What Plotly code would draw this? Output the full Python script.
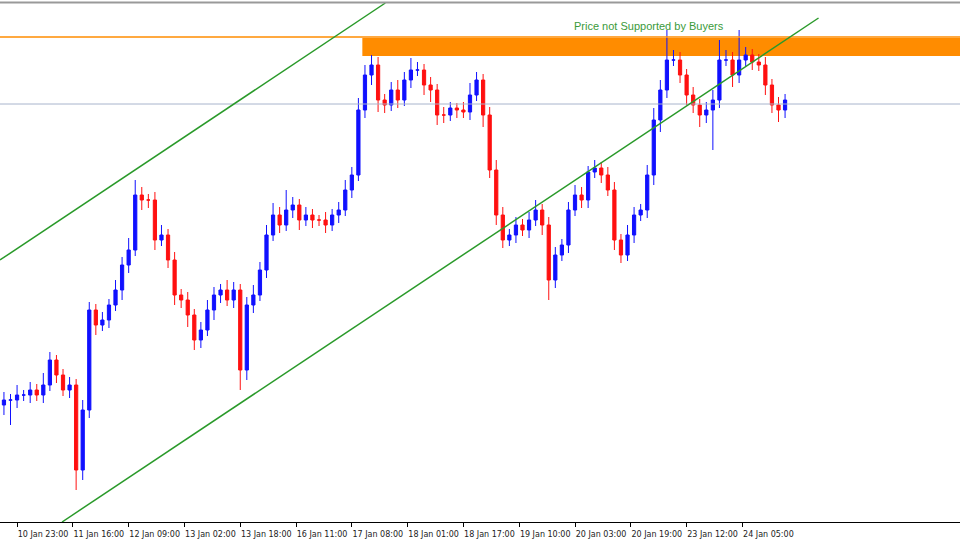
import plotly.graph_objs as go

# 2-hour candles, hour 0 = 10 Jan 23:00
hours = list(range(-4, 236, 2))
close = [140, 140, 145, 145, 150, 145, 155, 180, 165, 150, 155, 70, 130, 230, 215, 220, 235, 250, 275, 290,
         345, 340, 340, 300, 305, 280, 245, 240, 225, 200, 210, 230, 245, 250, 240, 250, 170, 235, 245, 270,
         305, 325, 315, 330, 335, 320, 325, 320, 320, 315, 325, 330, 350, 365, 430, 465, 475, 440, 435, 450,
         440, 460, 470, 470, 455, 450, 425, 425, 432, 430, 428, 445, 460, 425, 370, 325, 300, 305, 315, 310,
         320, 330, 315, 260, 285, 295, 330, 345, 340, 368, 372, 365, 350, 300, 285, 305, 325, 330, 365, 420,
         450, 480, 480, 465, 445, 435, 425, 430, 440, 480, 480, 465, 480, 485, 478, 475, 455, 435, 430, 440]
first_open = 135
wick_up = [8, 6, 10, 5, 8, 6, 12, 8, 5, 6, 8, 6, 10, 8, 6, 8, 6, 10, 8, 12,
           15, 8, 6, 8, 10, 6, 8, 6, 8, 6, 8, 10, 8, 6, 10, 8, 6, 8, 10, 8,
           10, 12, 8, 20, 8, 6, 8, 6, 5, 8, 6, 8, 10, 8, 12, 10, 10, 8, 6, 8,
           10, 8, 12, 8, 6, 8, 6, 8, 6, 5, 8, 12, 8, 6, 8, 10, 8, 6, 8, 6,
           8, 10, 6, 8, 8, 6, 8, 10, 8, 6, 8, 6, 8, 8, 6, 10, 8, 6, 10, 12,
           10, 30, 10, 8, 6, 8, 6, 8, 10, 20, 10, 8, 30, 8, 6, 8, 8, 6, 8, 6]
wick_dn = [10, 25, 8, 6, 8, 6, 8, 6, 8, 6, 8, 20, 10, 8, 10, 6, 8, 6, 10, 8,
           6, 10, 8, 10, 6, 8, 10, 8, 12, 10, 8, 6, 10, 8, 6, 8, 20, 10, 8, 6,
           8, 6, 8, 6, 8, 10, 6, 8, 6, 8, 6, 8, 6, 8, 6, 8, 10, 12, 8, 6,
           8, 6, 8, 6, 10, 12, 10, 8, 6, 8, 6, 8, 6, 12, 8, 10, 8, 6, 8, 6,
           8, 6, 10, 20, 8, 6, 8, 6, 8, 8, 6, 8, 6, 10, 8, 6, 8, 6, 8, 10,
           12, 8, 6, 8, 10, 8, 12, 8, 40, 8, 6, 12, 8, 6, 8, 6, 10, 8, 12, 8]

tick_hours = [-17, 0, 17, 34, 51, 68, 85, 102, 119, 136, 153, 170, 187, 204, 221]
tick_text = ["10 Jan 06:00", "10 Jan 23:00", "11 Jan 16:00", "12 Jan 09:00", "13 Jan 02:00", "13 Jan 18:00",
             "16 Jan 11:00", "17 Jan 08:00", "18 Jan 01:00", "18 Jan 17:00", "19 Jan 10:00", "20 Jan 03:00",
             "20 Jan 19:00", "23 Jan 12:00", "24 Jan 05:00"]

opens = [first_open] + close[:-1]
highs = [max(o, c) + w for o, c, w in zip(opens, close, wick_up)]
lows = [min(o, c) - w for o, c, w in zip(opens, close, wick_dn)]

candles = go.Candlestick(x=hours, open=opens, high=highs, low=lows, close=close,
                         increasing=dict(line=dict(color="#1010ff", width=1), fillcolor="#1010ff"),
                         decreasing=dict(line=dict(color="#ff1010", width=1), fillcolor="#ff1010"),
                         whiskerwidth=0, showlegend=False, hoverinfo="skip")

fig = go.Figure(data=[candles])

zone_top, zone_bot = 502, 484
fig.add_shape(type="rect", x0=105.2, x1=300, y0=zone_bot, y1=zone_top, fillcolor="#ff8c00",
              line=dict(width=0), layer="below")
fig.add_shape(type="line", x0=-10, x1=300, y0=503, y1=503, line=dict(color="#ff8c00", width=1.5))
fig.add_shape(type="line", x0=-10, x1=300, y0=436, y1=436, line=dict(color="#a8b4cc", width=1))
fig.add_shape(type="line", x0=-5.2, x1=112.2, y0=280, y1=537, line=dict(color="#2a9a2a", width=1.5))
fig.add_shape(type="line", x0=13.7, x1=244.2, y0=18, y1=522, line=dict(color="#2a9a2a", width=1.5))
fig.add_shape(type="line", xref="paper", yref="paper", x0=0, x1=1, y0=0.995, y1=0.995,
              line=dict(color="#999999", width=2))
fig.add_annotation(x=192.4, y=514, text="Price not Supported by Buyers", showarrow=False,
                   font=dict(color="#3a9a3a", size=11, family="Liberation Sans"))

fig.update_layout(width=960, height=540, margin=dict(l=0, r=0, t=0, b=18, pad=0),
                  paper_bgcolor="white", plot_bgcolor="white",
                  xaxis=dict(range=[-5.2, 287.3], rangeslider=dict(visible=False), showgrid=False,
                             zeroline=False, tickmode="array", tickvals=tick_hours, ticktext=tick_text,
                             ticks="outside", ticklen=4, tickcolor="black", showline=True,
                             linecolor="black", linewidth=1, ticklabelshift=26, tickangle=0,
                             automargin=False, ticklabelstandoff=0,
                             tickfont=dict(size=8, family="DejaVu Sans", color="#222222")),
                  yaxis=dict(range=[18, 540], showgrid=False, zeroline=False, showticklabels=False,
                             automargin=False))

fig.write_html("out.html", config={"displayModeBar": False},
               post_script="document.body.style.margin='0';")
